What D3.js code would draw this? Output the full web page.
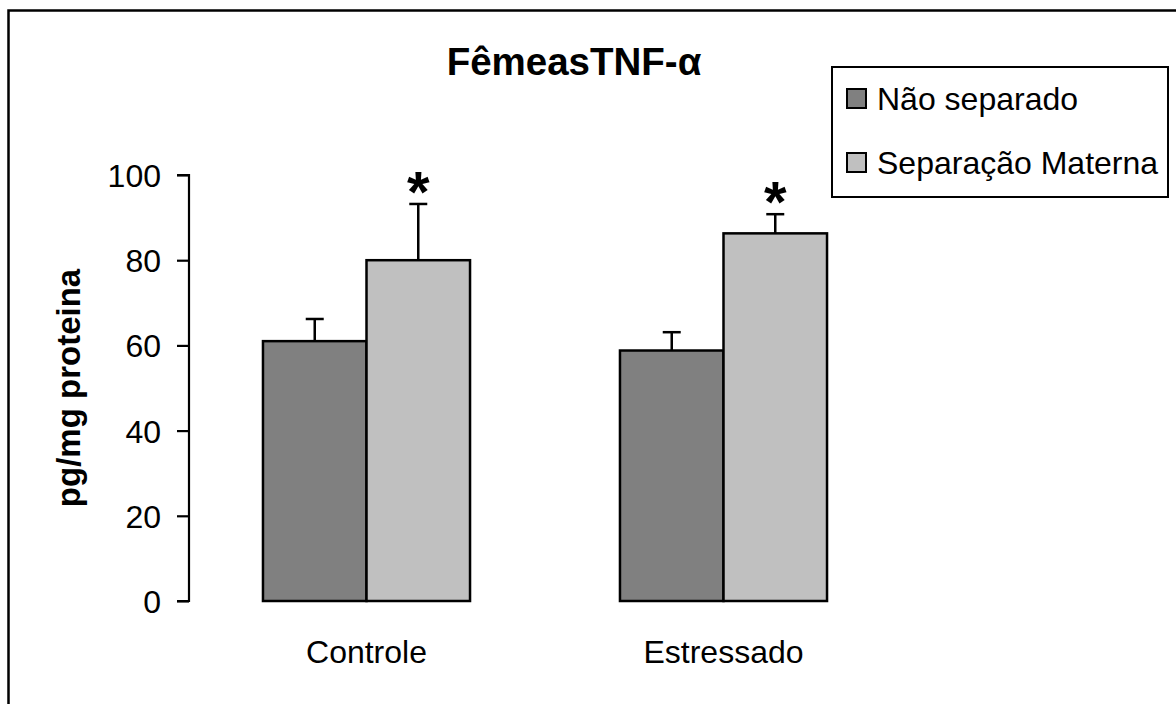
<!DOCTYPE html>
<html><head><meta charset="utf-8">
<script src="https://cdn.jsdelivr.net/npm/d3@7"></script>
<style>body{margin:0;background:#fff}svg{display:block}text{font-family:"Liberation Sans",Arial,sans-serif}</style>
</head><body><svg id="c" width="1176" height="704"></svg>
<script>
const categories = ["Controle", "Estressado"];
const seriesNames = ["Não separado", "Separação Materna"];
const seriesColors = ["#808080", "#c0c0c0"];
const meansNaoSeparado = [61.0, 58.8];
const meansSeparacao = [80.0, 86.3];
const errNaoSeparado = [5.2, 4.3];
const errSeparacao = [13.2, 4.5];
const significant = [[false, true], [false, true]];
const yTicks = [0, 20, 40, 60, 80, 100];
const title = "FêmeasTNF-α";
const yLabel = "pg/mg proteina";

const rows = categories.map((c, i) => ({
  cat: c,
  vals: [
    {s: 0, v: meansNaoSeparado[i], e: errNaoSeparado[i], sig: significant[i][0]},
    {s: 1, v: meansSeparacao[i], e: errSeparacao[i], sig: significant[i][1]}
  ]
}));

const svg = d3.select("#c");
svg.append("rect").attr("x", 8.5).attr("y", 10.5).attr("width", 1200).attr("height", 800)
  .attr("fill", "none").attr("stroke", "#000").attr("stroke-width", 2.5);

const x = d3.scaleBand().domain(categories).range([188, 902]).paddingInner(0.42).paddingOuter(0.21);
const xs = d3.scaleBand().domain([0, 1]).range([0, x.bandwidth()]);
const y = d3.scaleLinear().domain([0, 100]).range([601, 175]);

// y axis
const yAxis = d3.axisLeft(y).tickValues(yTicks).tickSize(12).tickPadding(16).tickFormat(d3.format("d"));
const ga = svg.append("g").attr("transform", "translate(189,0)").call(yAxis);
ga.select(".domain").attr("stroke", "#000").attr("stroke-width", 2.2).attr("d", `M-12,${y(100)}H0V${y(0)}H-12`);
ga.selectAll(".tick line").attr("stroke", "#000").attr("stroke-width", 2.2);
ga.selectAll(".tick text").attr("font-size", 32).attr("fill", "#000")
  .attr("font-family", "Liberation Sans, Arial, sans-serif").attr("dy", "0.36em");

// bars
const g = svg.append("g");
const grp = g.selectAll("g.grp").data(rows).join("g").attr("transform", d => `translate(${x(d.cat)},0)`);
grp.selectAll("line.err").data(d => d.vals).join("line")
  .attr("x1", d => xs(d.s) + xs.bandwidth()/2).attr("x2", d => xs(d.s) + xs.bandwidth()/2)
  .attr("y1", d => y(d.v)).attr("y2", d => y(d.v + d.e)).attr("stroke", "#000").attr("stroke-width", 2.5);
grp.selectAll("line.cap").data(d => d.vals).join("line")
  .attr("x1", d => xs(d.s) + xs.bandwidth()/2 - 9).attr("x2", d => xs(d.s) + xs.bandwidth()/2 + 9)
  .attr("y1", d => y(d.v + d.e)).attr("y2", d => y(d.v + d.e)).attr("stroke", "#000").attr("stroke-width", 2.5);
grp.selectAll("rect").data(d => d.vals).join("rect")
  .attr("x", d => xs(d.s)).attr("width", xs.bandwidth())
  .attr("y", d => y(d.v)).attr("height", d => y(0) - y(d.v))
  .attr("fill", d => seriesColors[d.s]).attr("stroke", "#000").attr("stroke-width", 2.5);
grp.selectAll("text.star").data(d => d.vals.filter(v => v.sig)).join("text")
  .attr("x", d => xs(d.s) + xs.bandwidth()/2).attr("y", d => y(d.v + d.e) + 8)
  .attr("text-anchor", "middle").attr("font-size", 58).attr("font-weight", "bold")
  .attr("font-family", "Liberation Serif, serif").text("*");

// x labels
svg.append("g").selectAll("text").data(categories).join("text")
  .attr("x", d => x(d) + x.bandwidth()/2).attr("y", 663).attr("text-anchor", "middle")
  .attr("font-size", 32).text(d => d);

// title
svg.append("text").attr("x", 574).attr("y", 75).attr("text-anchor", "middle")
  .attr("font-size", 38.5).attr("font-weight", "bold").text(title);

// y label
svg.append("text").attr("transform", `translate(80,${(y(0)+y(100))/2}) rotate(-90)`)
  .attr("text-anchor", "middle").attr("font-size", 33).attr("font-weight", "bold").text(yLabel);

// legend
const lg = svg.append("g");
lg.append("rect").attr("x", 832).attr("y", 67).attr("width", 336).attr("height", 130)
  .attr("fill", "#fff").attr("stroke", "#000").attr("stroke-width", 2);
const li = lg.selectAll("g.li").data(seriesNames).join("g")
  .attr("transform", (d, i) => `translate(0,${i * 64})`);
li.append("rect").attr("x", 847).attr("y", 89).attr("width", 19).attr("height", 19)
  .attr("fill", (d, i) => seriesColors[i]).attr("stroke", "#000").attr("stroke-width", 2);
li.append("text").attr("x", 877).attr("y", 110).attr("font-size", 32).text(d => d);
</script></body></html>
